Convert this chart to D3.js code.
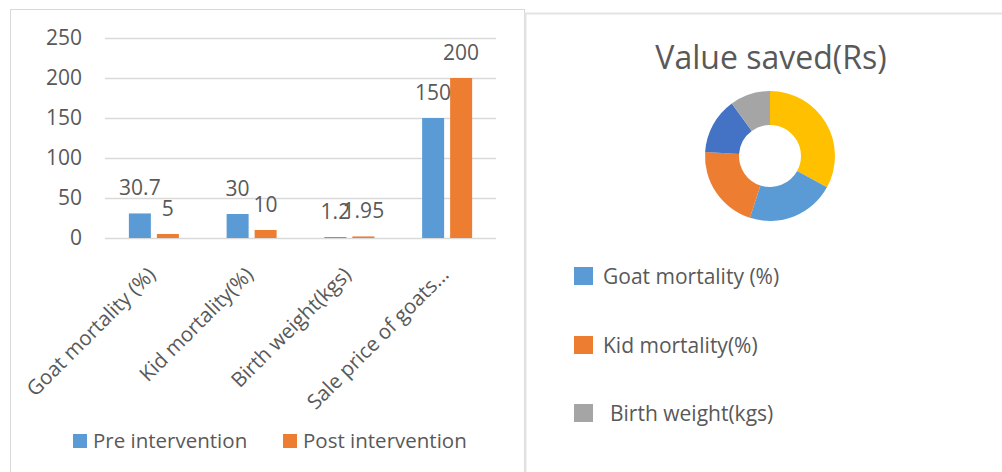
<!DOCTYPE html>
<html>
<head>
  <meta charset="utf-8">
  <title>Goat intervention results</title>
  <script src="https://d3js.org/d3.v7.min.js"></script>
  <style>
    body { margin: 0; background: #fff; }
    svg text { font-family: "Open Sans", sans-serif; fill: #595959; }
  </style>
</head>
<body>
<svg id="chart" width="1002" height="472"></svg>
<script>
// bar chart data
const categories = ["Goat mortality (%)", "Kid mortality(%)", "Birth weight(kgs)", "Sale price of goats..."];
const series = ["Pre intervention", "Post intervention"];
const preValues = [30.7, 30, 1.2, 150];
const postValues = [5, 10, 1.95, 200];
const yTicks = [0, 50, 100, 150, 200, 250];

// doughnut data (clockwise from 12 o'clock)
const donutNames = ["Slice 4", "Goat mortality (%)", "Kid mortality(%)", "Slice 5", "Birth weight(kgs)"];
const donutValues = [33, 22, 21, 14, 10];
const donutColors = ["#FFC000", "#5B9BD5", "#ED7D31", "#4472C4", "#A5A5A5"];
const legendNames = ["Goat mortality (%)", "Kid mortality(%)", "Birth weight(kgs)"];
const legendColors = ["#5B9BD5", "#ED7D31", "#A5A5A5"];

const svg = d3.select("#chart");
const blue = "#5B9BD5", orange = "#ED7D31";

// panel borders
svg.append("rect").attr("x", 10.5).attr("y", 9.5).attr("width", 514).attr("height", 480)
  .attr("fill", "none").attr("stroke", "#d9d9d9");
svg.append("rect").attr("x", 525.5).attr("y", 13.5).attr("width", 490).attr("height", 480)
  .attr("fill", "none").attr("stroke", "#e3e3e3").attr("stroke-width", 2);

// ---- bar chart ----
const x = d3.scaleBand().domain(categories).range([105, 496]);
const y = d3.scaleLinear().domain([0, 250]).range([238, 38]);
const bw = 22, gap = 6;

const grid = svg.append("g");
grid.selectAll("line").data(yTicks).join("line")
  .attr("x1", 105).attr("x2", 496)
  .attr("y1", d => Math.round(y(d)) + 0.5).attr("y2", d => Math.round(y(d)) + 0.5)
  .attr("stroke", "#d9d9d9").attr("stroke-width", 1.5);

const yAxis = svg.append("g").attr("transform", "translate(82,0)")
  .call(d3.axisLeft(y).tickValues(yTicks).tickSize(0).tickPadding(0));
yAxis.select(".domain").remove();
yAxis.selectAll("text").style("font-size", "21px").attr("fill", "#595959")
  .style("font-family", "'Open Sans', sans-serif");

const rows = categories.map((c, i) => ({c, pre: preValues[i], post: postValues[i]}));
const bars = [];
rows.forEach(r => {
  bars.push({c: r.c, v: r.pre, x0: x(r.c) + x.bandwidth() / 2 - gap / 2 - bw, col: blue});
  bars.push({c: r.c, v: r.post, x0: x(r.c) + x.bandwidth() / 2 + gap / 2, col: orange});
});

svg.append("g").selectAll("rect").data(bars).join("rect")
  .attr("x", d => d.x0).attr("width", bw)
  .attr("y", d => y(d.v)).attr("height", d => y(0) - y(d.v))
  .attr("fill", d => d.col);

svg.append("g").selectAll("text").data(bars).join("text")
  .attr("x", d => d.x0 + bw / 2).attr("y", d => y(d.v) - 18)
  .attr("text-anchor", "middle").style("font-size", "21px")
  .text(d => d.v);

svg.append("g").selectAll("text").data(categories).join("text")
  .attr("transform", d => `translate(${x(d) + x.bandwidth() / 2 + 3},276) rotate(-45)`)
  .attr("text-anchor", "end").style("font-size", "20.5px")
  .text(d => d);

const leg = svg.append("g");
[0, 1].forEach(i => {
  const lx = [73, 283][i];
  leg.append("rect").attr("x", lx).attr("y", 434).attr("width", 14).attr("height", 14)
    .attr("fill", [blue, orange][i]);
  leg.append("text").attr("x", lx + 20).attr("y", 448).style("font-size", "20.5px").text(series[i]);
});

// ---- doughnut ----
svg.append("text").attr("x", 771).attr("y", 69).attr("text-anchor", "middle")
  .style("font-size", "32px").text("Value saved(Rs)");

const pie = d3.pie().sort(null).value(d => d)(donutValues);
const arc = d3.arc().innerRadius(31).outerRadius(65);
svg.append("g").attr("transform", "translate(770,156)")
  .selectAll("path").data(pie).join("path")
  .attr("d", arc).attr("fill", (d, i) => donutColors[i]);

const rl = svg.append("g");
legendNames.forEach((n, i) => {
  const ly = [267, 336, 404][i];
  rl.append("rect").attr("x", 574).attr("y", ly).attr("width", 19).attr("height", 18)
    .attr("fill", legendColors[i]);
  rl.append("text").attr("x", i === 2 ? 610 : 603).attr("y", ly + 17)
    .style("font-size", "21px").text(n);
});
</script>
</body>
</html>
